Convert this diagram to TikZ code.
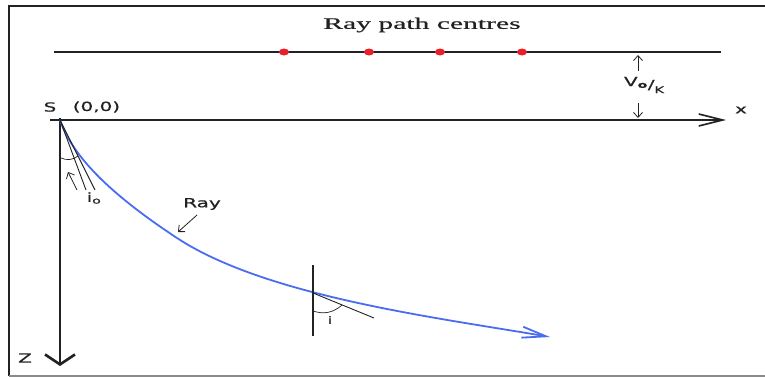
\documentclass[tikz,border=0pt]{standalone}
\usepackage{fontspec}
\setmainfont{Liberation Serif}
\newfontfamily\titlefont{Liberation Serif}[FakeStretch=1.85,FakeBold=0.6]
\newfontfamily\lblfont{DejaVu Sans}[FakeStretch=1.6,FakeBold=0.8]
\usetikzlibrary{positioning,arrows.meta,shapes.geometric}
\definecolor{rayBlue}{HTML}{4A6CF0}
\definecolor{dotRed}{HTML}{E8202A}
\definecolor{ink}{HTML}{222222}
\definecolor{edge}{HTML}{8A8A8A}

\begin{document}
\begin{tikzpicture}[
  x=1pt, y=-1pt,
  >={Straight Barb[length=5pt,width=9pt]},
  lbl/.style={font=\lblfont\fontsize{12.5}{14}\selectfont, inner sep=0pt, color=ink},
  frame/.style={line width=1.8pt, color=ink},
  thin/.style={line width=0.9pt, color=ink},
  xaxis/.style={line width=1.6pt, color=ink, -{Straight Barb[length=24pt,width=12pt]}},
  zaxis/.style={line width=2.6pt, color=ink, -{Straight Barb[length=10pt,width=30pt]}},
  ray/.style={line width=1.8pt, color=rayBlue, -{Straight Barb[length=24pt,width=11pt]}},
  centre/.style={ellipse, fill=dotRed, inner sep=0pt, minimum width=10pt, minimum height=7pt},
  flow/.style={->, line width=0.8pt, color=ink}
]
\useasboundingbox (0,0) rectangle (765,377);

\draw[frame] (765,6) -- (9,6) -- (9,376);
\draw[frame, color=edge] (9,376) -- (765,376);

\node[font=\titlefont\fontsize{16}{19}\selectfont, color=ink] (title) at (422,25) {Ray path centres};

\coordinate (cl) at (54,52);
\coordinate (cr) at (721,52);
\draw[thin, line width=1.4pt] (cl) -- (cr);
\node[centre] (c1) at (284,52) {};
\node[centre] (c2) at (369,52) {};
\node[centre] (c3) at (440,52) {};
\node[centre] (c4) at (522,52) {};

\coordinate (O) at (60,120);
\coordinate (xl) at (50,120);
\coordinate (xr) at (726,120);
\coordinate (zb) at (60,366);
\draw[xaxis] (xl) -- (xr);
\draw[zaxis] (60,118) -- (zb);

\node[lbl] (S) at (50,107) {S};
\node[lbl, right=16pt of S] (orig) {(0,0)};
\node[lbl] (xlab) at (741,110) {x};
\node[lbl] (zlab) at (25,358) {Z};

\node[lbl] (vk) at (644,85) {\raisebox{3pt}{V\textsubscript{\bfseries o}}/\raisebox{-4pt}{\fontsize{9}{10}\selectfont K}};
\coordinate (upA) at (638,71);
\coordinate (upB) at (638,55);
\coordinate (dnA) at (638,103);
\coordinate (dnB) at (638,118);
\draw[flow] (upA) -- (upB);
\draw[flow] (dnA) -- (dnB);

\coordinate (bend) at (177,238);
\coordinate (rayEnd) at (550,337);
\draw[ray] (O) .. controls (75,165) and (130,207) .. (bend)
  .. controls (267,297) and (440,318) .. (rayEnd);

\coordinate (t1) at (86,190);
\coordinate (t2) at (95,190);
\draw[thin] (O) -- (t1);
\draw[thin] (O) -- (t2);
\draw[thin, line width=0.7pt] (61,158) to[bend right=30] (78,156);
\draw[flow] (77,190) -- (68,172);
\node[lbl] (io) at (94,198) {i\textsubscript{o}};

\node[lbl] (raylab) at (202,204) {Ray};
\draw[flow] (197,215) -- (178,232);

\coordinate (P) at (313,293);
\coordinate (pTop) at (313,265);
\coordinate (pBot) at (313,336);
\coordinate (tP) at (374,318);
\draw[thin, line width=1.3pt] (pTop) -- (pBot);
\draw[thin] (P) -- (tP);
\draw[thin, line width=0.7pt] (313,311) to[bend right=30] (342,305);
\node[lbl, font=\lblfont\fontsize{10}{12}\selectfont] (ilab) at (330,320) {i};

\end{tikzpicture}
\end{document}
